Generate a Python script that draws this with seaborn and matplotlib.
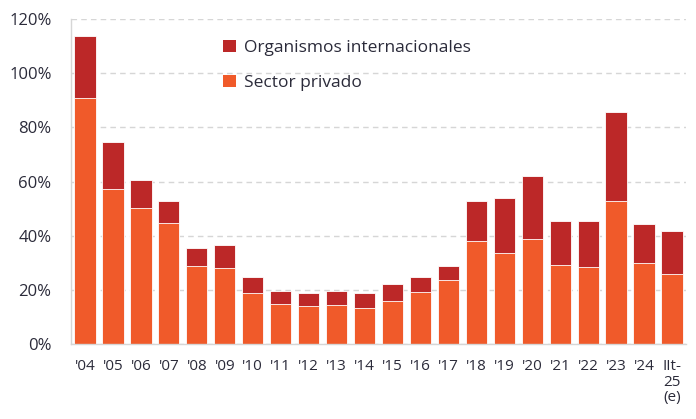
import matplotlib
matplotlib.use("Agg")
import matplotlib.pyplot as plt
import numpy as np
import pandas as pd
import seaborn as sns
from matplotlib.patches import Patch
from matplotlib.ticker import FixedLocator

years = ["'04", "'05", "'06", "'07", "'08", "'09", "'10", "'11", "'12", "'13", "'14",
         "'15", "'16", "'17", "'18", "'19", "'20", "'21", "'22", "'23", "'24", "IIt-\n25\n(e)"]
sector_privado = [90.8, 57.4, 50.3, 44.6, 28.7, 28.2, 18.9, 14.9, 13.9, 14.4, 13.4,
                  16.0, 19.1, 23.6, 38.0, 33.5, 38.6, 29.3, 28.3, 52.9, 29.8, 25.7]
organismos = [23.1, 17.0, 10.2, 8.3, 6.6, 8.2, 5.7, 4.5, 5.0, 5.0, 5.5,
              6.0, 5.5, 5.2, 14.9, 20.4, 23.5, 16.3, 17.3, 32.8, 14.4, 15.9]

c_org = "#BC2828"
c_priv = "#F05A2A"
txt = "#2b2b3a"

df = pd.DataFrame({"anio": years, "privado": sector_privado, "org": organismos})
df["total"] = df["privado"] + df["org"]

sns.set_style("white")
plt.rcParams["font.family"] = ["Open Sans", "DejaVu Sans"]

fig = plt.figure(figsize=(6.96, 4.19), dpi=100)
ax = fig.add_axes([71 / 696, 1 - 344 / 419, 615 / 696, 325 / 419])

# stacked: total in dark red, private sector drawn over it
sns.barplot(data=df, x="anio", y="total", color=c_org, saturation=1, width=0.76,
            edgecolor="white", linewidth=0.6, ax=ax)
sns.barplot(data=df, x="anio", y="privado", color=c_priv, saturation=1, width=0.76,
            edgecolor="white", linewidth=0.6, ax=ax)

ax.set_xlim(-0.5, len(years) - 0.5)
ax.set_ylim(0, 120)
ax.set_yticks(range(0, 121, 20))
ax.set_yticklabels([f"{v}%" for v in range(0, 121, 20)])
ax.set_xlabel("")
ax.set_ylabel("")

ax.yaxis.grid(True, color="#d6d6d6", linestyle=(0, (4, 3)), linewidth=1)
ax.set_axisbelow(True)
for s in ["top", "right"]:
    ax.spines[s].set_visible(False)
for s in ["left", "bottom"]:
    ax.spines[s].set_color("#d6d6d6")
    ax.spines[s].set_linewidth(1)

ax.xaxis.set_minor_locator(FixedLocator(np.arange(-0.5, len(years), 1.0)))
ax.tick_params(axis="x", which="minor", length=6, color="#d6d6d6", width=1)
ax.tick_params(axis="x", which="major", length=0, pad=11, labelsize=11, labelcolor=txt)
ax.tick_params(axis="y", length=0, pad=14, labelsize=12, labelcolor=txt)
for lab in ax.get_xticklabels():
    lab.set_verticalalignment("top")
    lab.set_multialignment("center")
    lab.set_linespacing(1.05)

handles = [Patch(facecolor=c_org, edgecolor="none"), Patch(facecolor=c_priv, edgecolor="none")]
fig.legend(handles, ["Organismos internacionales", "Sector privado"],
           loc="upper left", bbox_to_anchor=(207 / 696, 1 - 24 / 419), frameon=False,
           fontsize=12.5, labelcolor=txt, handlelength=0.75, handleheight=0.75,
           handletextpad=0.5, labelspacing=1.07)

fig.savefig("out.png", dpi=100)
